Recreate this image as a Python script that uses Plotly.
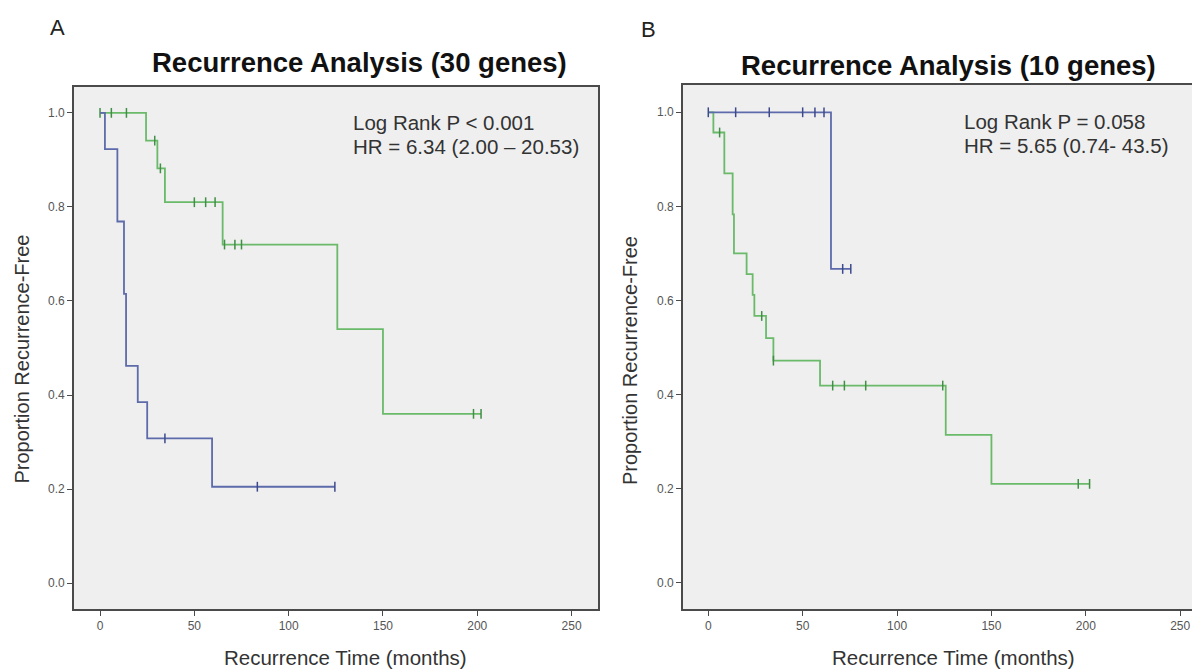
import plotly.graph_objects as go

# ---------------- data ----------------
# Panel A (30 genes)
a_green_event_t = [24.4, 30.4, 34.4, 65.0, 125.8, 150.0]
a_green_event_s = [0.941, 0.882, 0.810, 0.720, 0.540, 0.360]
a_green_censor_t = [0, 6, 14, 29, 32, 50, 56, 61, 66, 71.5, 75, 198, 202]

a_blue_event_t = [2.6, 9.2, 12.7, 13.8, 20.0, 25.0, 59.4]
a_blue_event_s = [0.923, 0.769, 0.615, 0.462, 0.385, 0.308, 0.205]
a_blue_censor_t = [34.4, 83.4, 124.5]

# Panel B (10 genes)
b_green_event_t = [2.7, 8.5, 12.9, 13.6, 20.3, 23.5, 24.4, 30.6, 34.5, 59.2, 125.8, 150.0]
b_green_event_s = [0.957, 0.870, 0.783, 0.700, 0.656, 0.612, 0.567, 0.520, 0.472, 0.419, 0.314, 0.210]
b_green_censor_t = [6, 28.3, 34.5, 65.9, 72.1, 83.4, 124.2, 196, 202]

b_blue_event_t = [65.0]
b_blue_event_s = [0.667]
b_blue_censor_t = [0, 14.5, 32.3, 50, 56.5, 61.3, 71.2, 75.5]

x_ticks = [0, 50, 100, 150, 200, 250]
y_ticks = [0.0, 0.2, 0.4, 0.6, 0.8, 1.0]
y_ticklabels = ["0.0", "0.2", "0.4", "0.6", "0.8", "1.0"]

titles = ["Recurrence Analysis (30 genes)", "Recurrence Analysis (10 genes)"]
panel_letters = ["A", "B"]
stats_line1 = ["Log Rank P < 0.001", "Log Rank P = 0.058"]
stats_line2 = ["HR = 6.34 (2.00 \u2013 20.53)", "HR = 5.65 (0.74- 43.5)"]
x_title = "Recurrence Time (months)"
y_title = "Proportion Recurrence-Free"

GREEN = "#6aba6a"
GREEN_D = "#3f8f45"
BLUE = "#5d6bab"
BLUE_D = "#3c4a8c"
FONT = "Liberation Sans, Arial, sans-serif"


def surv_at(t, ev_t, ev_s):
    s = 1.0
    for et, es in zip(ev_t, ev_s):
        if et <= t:
            s = es
    return s


def add_curve(fig, ev_t, ev_s, cens_t, color, mcolor, xa, ya):
    end_t = max(cens_t + ev_t)
    xs = [0] + list(ev_t) + [end_t]
    ys = [1.0] + list(ev_s) + [ev_s[-1]]
    fig.add_trace(go.Scatter(x=xs, y=ys, mode="lines", line=dict(color=color, width=1.8, shape="hv"),
                             xaxis=xa, yaxis=ya, showlegend=False, hoverinfo="skip"))
    fig.add_trace(go.Scatter(x=cens_t, y=[surv_at(t, ev_t, ev_s) for t in cens_t], mode="markers",
                             marker=dict(symbol="line-ns", size=7, line=dict(color=mcolor, width=1.5)),
                             xaxis=xa, yaxis=ya, showlegend=False, hoverinfo="skip"))


fig = go.Figure()
add_curve(fig, a_green_event_t, a_green_event_s, a_green_censor_t, GREEN, GREEN_D, "x", "y")
add_curve(fig, a_blue_event_t, a_blue_event_s, a_blue_censor_t, BLUE, BLUE_D, "x", "y")
add_curve(fig, b_green_event_t, b_green_event_s, b_green_censor_t, GREEN, GREEN_D, "x2", "y2")
add_curve(fig, b_blue_event_t, b_blue_event_s, b_blue_censor_t, BLUE, BLUE_D, "x2", "y2")

# page body has an 8px margin; the figure fills the rest of the 1200x669 window
OFF = 8
W, H = 1200 - OFF, 669 - OFF


def px(x):
    return (x - OFF) / W


def py(y):
    return 1 - (y - OFF) / H


axis_common = dict(showgrid=False, zeroline=False, showline=True, linecolor="#4a4a4a", linewidth=1.8,
                   ticks="outside", ticklen=5, tickwidth=1.4, tickcolor="#4a4a4a",
                   tickfont=dict(family=FONT, size=12, color="#555"))

fig.update_layout(
    width=W, height=H,
    margin=dict(l=0, r=0, t=0, b=0),
    paper_bgcolor="white",
    plot_bgcolor="#efefef",
    xaxis=dict(domain=[px(74), px(598)], range=[-13.8, 264], tickvals=x_ticks, mirror=True, anchor="y", **axis_common),
    yaxis=dict(domain=[py(609), py(87)], range=[-0.055, 1.055], tickvals=y_ticks, ticktext=y_ticklabels,
               mirror=True, anchor="x", **axis_common),
    xaxis2=dict(domain=[px(683), 1.0], range=[-13.4, 260.5], tickvals=x_ticks, mirror=True, anchor="y2", **axis_common),
    yaxis2=dict(domain=[py(609), py(85)], range=[-0.056, 1.058], tickvals=y_ticks, ticktext=y_ticklabels,
                mirror=False, anchor="x2", **axis_common),
)

ann = []
# panel letters
ann.append(dict(x=px(57), y=py(28), text=panel_letters[0], font=dict(family=FONT, size=22, color="#222")))
ann.append(dict(x=px(648), y=py(30), text=panel_letters[1], font=dict(family=FONT, size=22, color="#222")))
# titles
ann.append(dict(x=px(359), y=py(62.5), text="<b>" + titles[0] + "</b>", font=dict(family=FONT, size=27.5, color="#111")))
ann.append(dict(x=px(948), y=py(66), text="<b>" + titles[1] + "</b>", font=dict(family=FONT, size=27.5, color="#111")))
# stats
ann.append(dict(x=px(351), y=py(122.5), text=stats_line1[0], xanchor="left", font=dict(family=FONT, size=20.5, color="#333")))
ann.append(dict(x=px(351), y=py(146.7), text=stats_line2[0], xanchor="left", font=dict(family=FONT, size=20.5, color="#333")))
ann.append(dict(x=px(962), y=py(121.7), text=stats_line1[1], xanchor="left", font=dict(family=FONT, size=20.5, color="#333")))
ann.append(dict(x=px(962), y=py(145.7), text=stats_line2[1], xanchor="left", font=dict(family=FONT, size=20.5, color="#333")))
# axis titles
ann.append(dict(x=px(345), y=py(657.5), text=x_title, font=dict(family=FONT, size=20.5, color="#333")))
ann.append(dict(x=px(953), y=py(657.5), text=x_title, font=dict(family=FONT, size=20.5, color="#333")))
ann.append(dict(x=px(21), y=py(359.5), text=y_title, textangle=-90, font=dict(family=FONT, size=20, color="#333")))
ann.append(dict(x=px(630), y=py(361), text=y_title, textangle=-90, font=dict(family=FONT, size=20, color="#333")))

for a in ann:
    a.setdefault("xanchor", "center")
    a.update(xref="paper", yref="paper", yanchor="middle", showarrow=False)
fig.update_layout(annotations=ann)

fig.write_html("out.html")
